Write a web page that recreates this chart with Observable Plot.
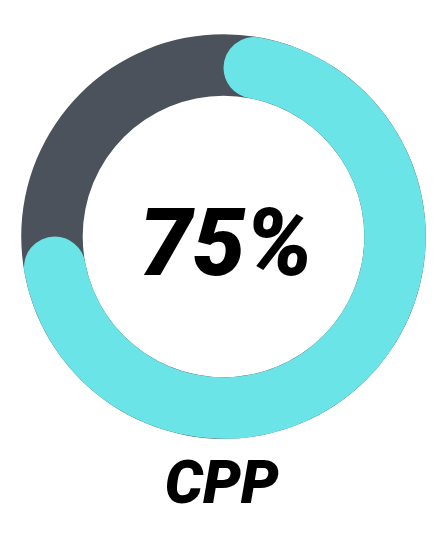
<!DOCTYPE html>
<html>
<head>
<meta charset="utf-8">
<script src="https://cdn.jsdelivr.net/npm/d3@7"></script>
<script src="https://cdn.jsdelivr.net/npm/@observablehq/plot@0.6"></script>
<style>
  html, body { margin: 0; padding: 0; background: #ffffff; }
  #chart svg { display: block; }
</style>
</head>
<body>
<div id="chart"></div>
<script>
// Data
const labels = ["CPP"];
const values = [75];
const totals = [100];

// Colours
const trackColor = "#4b525b";
const fillColor = "#6ae4e7";

// Ring geometry in x-scale units
const outerR = 0.905;
const innerR = 0.63;

const rows = labels.map((l, i) => ({label: l, value: values[i], total: totals[i]}));

function ring(index, {x, y}) {
  const cx = x(0), cy = y(0);
  const ro = x(outerR) - cx, ri = x(innerR) - cx;
  const arc = d3.arc().innerRadius(ri).outerRadius(ro).cornerRadius((ro - ri) / 2);
  const g = d3.create("svg:g").attr("transform", `translate(${cx},${cy})`);
  for (const d of rows) {
    g.append("path")
      .attr("d", arc({startAngle: 0, endAngle: 2 * Math.PI}))
      .attr("fill", trackColor);
    g.append("path")
      .attr("d", arc({startAngle: 0, endAngle: 2 * Math.PI * d.value / d.total}))
      .attr("fill", fillColor);
  }
  return g.node();
}

const chart = Plot.plot({
  width: 447,
  height: 559,
  marginLeft: 0,
  marginRight: 0,
  marginTop: 0,
  marginBottom: 86,
  x: {domain: [-1, 1], axis: null},
  y: {domain: [-1, 1], axis: null},
  style: {background: "#ffffff"},
  marks: [
    ring,
    Plot.text(rows, {
      x: () => 0.01,
      y: () => -0.035,
      text: d => `${d.value}%`,
      fontSize: 94,
      fontWeight: 900,
      fontStyle: "italic",
      fontFamily: "Roboto, 'DejaVu Sans', sans-serif",
      fill: "#000000",
      textAnchor: "middle",
      lineAnchor: "middle"
    }),
    Plot.text(rows, {
      x: () => -0.01,
      y: () => -1.045,
      text: "label",
      fontSize: 60,
      fontWeight: 900,
      fontStyle: "italic",
      fontFamily: "Roboto, 'DejaVu Sans', sans-serif",
      fill: "#000000",
      textAnchor: "middle",
      lineAnchor: "middle"
    })
  ]
});

document.getElementById("chart").appendChild(chart);
</script>
</body>
</html>
